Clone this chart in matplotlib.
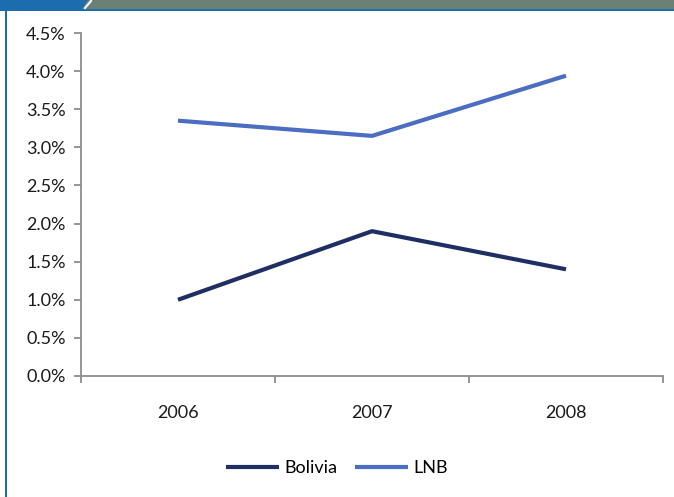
import matplotlib.pyplot as plt
from matplotlib.patches import Rectangle, Polygon
from matplotlib.lines import Line2D
from matplotlib.ticker import FuncFormatter, FixedLocator

plt.rcParams['font.family'] = ['Lato', 'DejaVu Sans']

years = ['2006', '2007', '2008']
bolivia = [1.0, 1.9, 1.4]
lnb = [3.35, 3.15, 3.94]

W, H = 674, 497
fig = plt.figure(figsize=(W / 100, H / 100), dpi=100)

# frame decorations: banner on top, blue rule on the left
blue = '#1b6db0'
fig.patches.append(Rectangle((0, 1 - 9 / H), 1, 9 / H, transform=fig.transFigure,
                             facecolor='#6b8174', edgecolor='none'))
fig.patches.append(Polygon([(0, 1), (88 / W, 1), (82 / W, 1 - 9 / H), (0, 1 - 9 / H)],
                           closed=True, transform=fig.transFigure,
                           facecolor=blue, edgecolor='none'))
fig.lines.append(Line2D([85 / W, 91 / W], [1 - 8 / H, 1 - 1 / H], transform=fig.transFigure,
                        color='white', lw=1.5))
fig.patches.append(Rectangle((0, 1 - 11 / H), 1, 2 / H, transform=fig.transFigure,
                             facecolor=blue, edgecolor='none'))
fig.patches.append(Rectangle((5 / W, 0), 2 / W, 1 - 9 / H, transform=fig.transFigure,
                             facecolor=blue, edgecolor='none'))

fs = 13
ax = fig.add_axes([81 / W, 1 - 376 / H, (663 - 81) / W, (376 - 33) / H])
x = list(range(len(years)))
ax.plot(x, bolivia, color='#1f2f63', lw=3, label='Bolivia', solid_capstyle='butt')
ax.plot(x, lnb, color='#4b6dc2', lw=3, label='LNB', solid_capstyle='butt')

ax.set_xlim(-0.5, 2.5)
ax.set_ylim(0, 4.5)
ax.set_yticks([i * 0.5 for i in range(10)])
ax.yaxis.set_major_formatter(FuncFormatter(lambda v, p: f'{v:.1f}%'))
ax.xaxis.set_major_locator(FixedLocator([-0.5, 0.5, 1.5, 2.5]))
ax.xaxis.set_minor_locator(FixedLocator(x))
ax.set_xticklabels([], minor=False)
ax.set_xticklabels(years, minor=True)
ax.tick_params(axis='x', which='minor', length=0, pad=21, labelsize=fs, colors='#1a1a1a')
ax.tick_params(axis='x', which='major', length=5, color='#8c8c8c', width=1.3)
ax.tick_params(axis='y', length=5, width=1.3, labelsize=fs, pad=6,
               colors='#8c8c8c', labelcolor='#1a1a1a')
for s in ['top', 'right']:
    ax.spines[s].set_visible(False)
for s in ['left', 'bottom']:
    ax.spines[s].set_color('#8c8c8c')
    ax.spines[s].set_linewidth(1.3)

fig.legend(loc='center', bbox_to_anchor=(0.5, 1 - 468 / H), ncol=2, frameon=False,
           fontsize=fs, handlelength=2.9, handletextpad=0.3, columnspacing=1.0)

fig.savefig('out.png', dpi=100)
